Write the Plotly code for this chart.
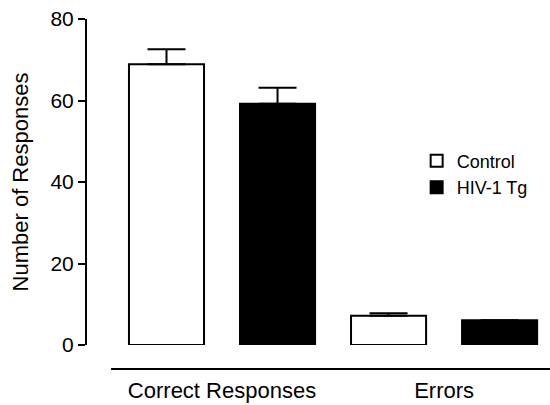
import plotly.graph_objects as go

# Data
categories = ["Correct Responses", "Errors"]
control_mean = [68.9, 7.2]
control_sem = [3.7, 0.6]
hiv_mean = [59.2, 6.1]
hiv_sem = [3.9, 0.0]
y_ticks = [0, 20, 40, 60, 80]

FONT = "Liberation Sans, Arial, sans-serif"

fig = go.Figure()
fig.add_trace(go.Bar(
    name="Control", x=categories, y=control_mean,
    marker=dict(color="white", line=dict(color="black", width=2)),
    error_y=dict(type="data", array=control_sem, arrayminus=[0, 0], symmetric=False,
                 color="black", thickness=2, width=19),
))
fig.add_trace(go.Bar(
    name="HIV-1 Tg", x=categories, y=hiv_mean,
    marker=dict(color="black", line=dict(color="black", width=2)),
    error_y=dict(type="data", array=hiv_sem, arrayminus=[0, 0], symmetric=False,
                 color="black", thickness=2, width=19),
))

# detached x-axis baseline below the bars
fig.add_shape(type="line", xref="paper", yref="paper",
              x0=0.052, x1=1.0, y0=-0.0736, y1=-0.0736,
              line=dict(color="black", width=2))

fig.update_layout(
    width=550, height=405,
    margin=dict(l=87, r=0, t=19, b=60),
    paper_bgcolor="white", plot_bgcolor="white",
    barmode="group", bargap=0.0, bargroupgap=0.324,
    font=dict(family=FONT, color="black"),
    showlegend=True,
    legend=dict(x=0.712, y=0.621, xanchor="left", yanchor="top",
                font=dict(size=18, family=FONT), bgcolor="rgba(0,0,0,0)",
                tracegroupgap=4),
    xaxis=dict(range=[-0.608, 1.477], showline=False, showgrid=False, zeroline=False,
               ticks="", tickfont=dict(size=22, family=FONT), ticklabelstandoff=30),
    yaxis=dict(range=[0, 80], tickvals=y_ticks, showline=True, linecolor="black", linewidth=2,
               ticks="outside", ticklen=7, tickwidth=2, tickcolor="black",
               showgrid=False, zeroline=False, tickfont=dict(size=21, family=FONT),
               title=dict(text="Number of Responses", font=dict(size=22, family=FONT), standoff=16)),
)

fig.write_html("out.html")
